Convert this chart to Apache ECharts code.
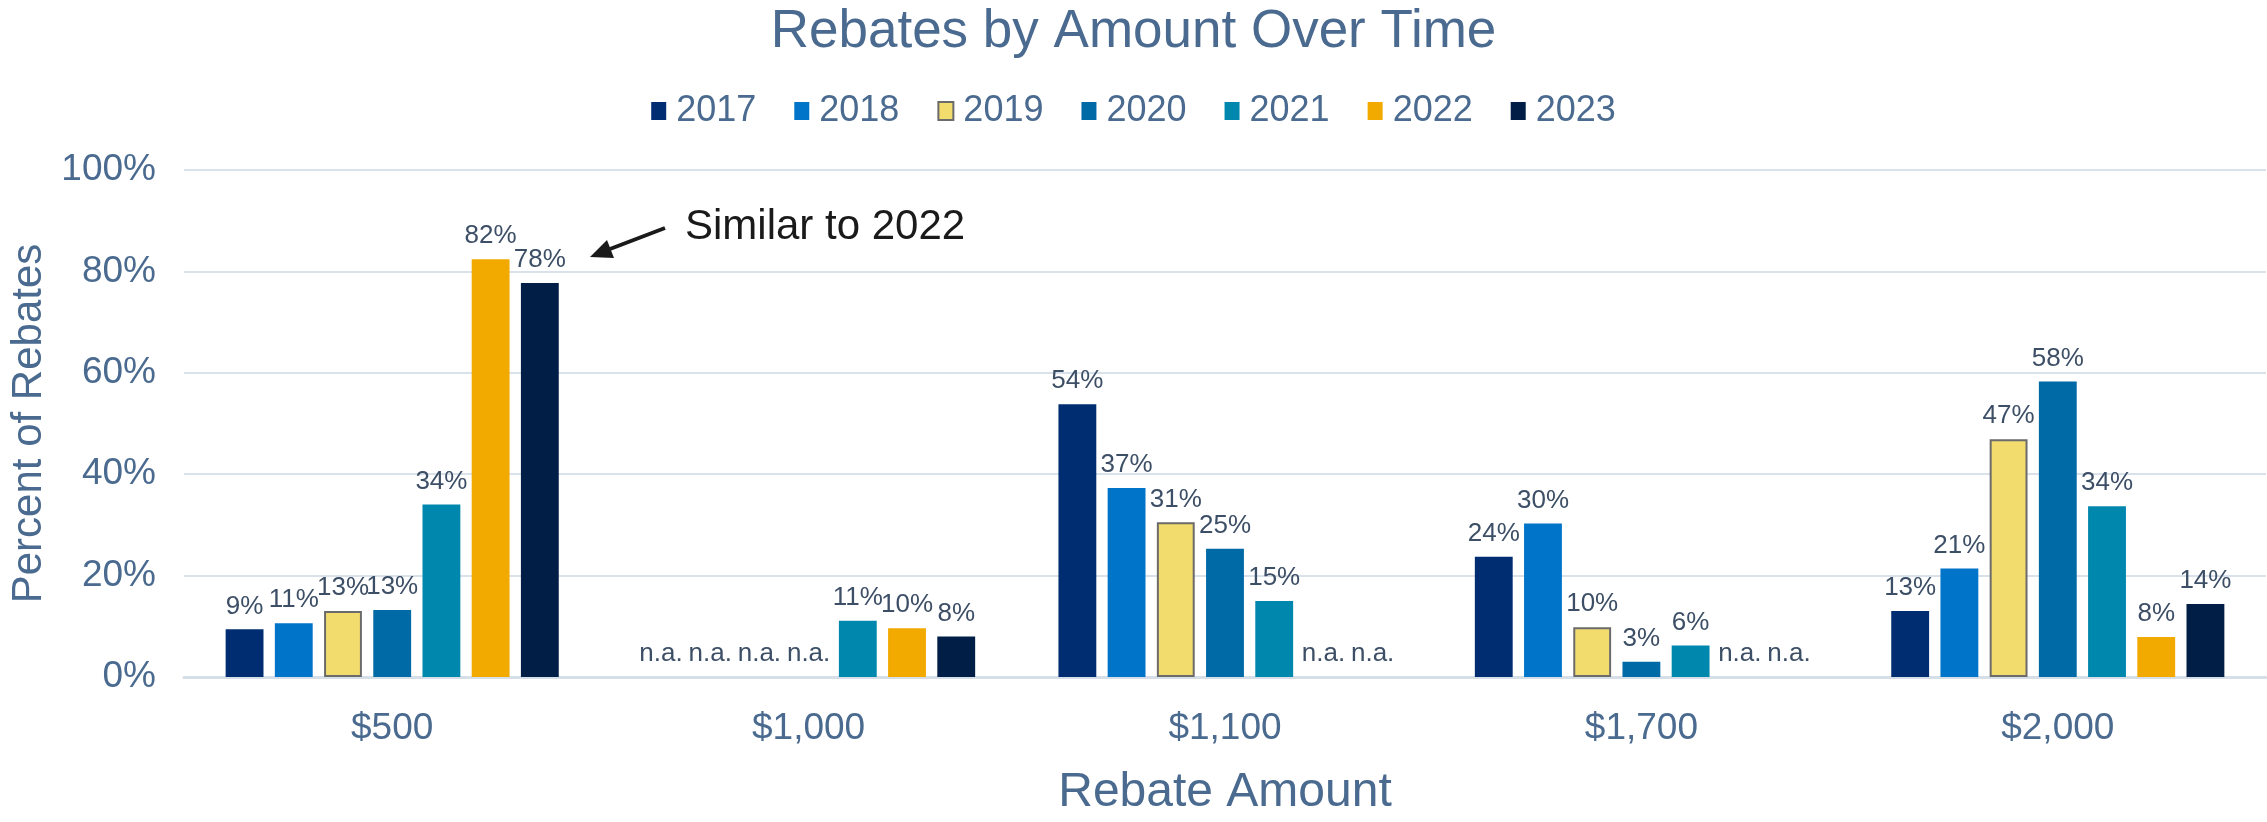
<!DOCTYPE html>
<html>
<head>
<meta charset="utf-8">
<script src="https://cdn.jsdelivr.net/npm/echarts@6/dist/echarts.min.js"></script>
<style>
html, body { margin: 0; padding: 0; background: #fff; }
#container { width: 2267px; height: 822px; }
</style>
</head>
<body>
<div id="container"></div>
<script>
var dom = document.getElementById("container");
var myChart = echarts.init(dom);

// rebate amounts on the x axis
var amounts = ['$500', '$1,000', '$1,100', '$1,700', '$2,000'];
var years = ['2017', '2018', '2019', '2020', '2021', '2022', '2023'];

// percent of rebates per year, null = n.a.
var y2017 = [9.4, null, 53.8, 23.7, 13.0];
var y2018 = [10.6, null, 37.3, 30.3, 21.4];
var y2019 = [13.0, null, 30.5, 9.8, 46.9];
var y2020 = [13.2, null, 25.3, 3.0, 58.3];
var y2021 = [34.0, 11.1, 15.0, 6.2, 33.7];
var y2022 = [82.4, 9.6, null, null, 7.9];
var y2023 = [77.7, 8.0, null, null, 14.4];

var yTicks = [0, 20, 40, 60, 80, 100];

var colorList = ['#002D72', '#0074C8', '#F2DC6E', '#006AA6', '#0087AD', '#F2A900', '#001E46'];
var allData = [y2017, y2018, y2019, y2020, y2021, y2022, y2023];

var fontName = '"Liberation Sans", Arial, sans-serif';
var axisColor = '#4A6A8F';
var labelColor = '#3D4F66';

var series = years.map(function (yr, i) {
	var raw = allData[i];
	var s = {
		name: yr,
		type: 'bar',
		barGap: '30%',
		barCategoryGap: '20%',
		// n.a. entries sit at 0 with no border so only the label shows
		data: raw.map(function (v) {
			if (v === null) return { value: 0, itemStyle: { borderWidth: 0 } };
			return v;
		}),
		itemStyle: { color: colorList[i] },
		label: {
			show: true,
			position: 'top',
			distance: 10,
			fontFamily: fontName,
			fontSize: 26,
			color: labelColor,
			formatter: function (p) {
				if (raw[p.dataIndex] === null) return 'n.a.';
				return Math.round(p.value) + '%';
			}
		}
	};
	if (yr === '2019') {
		s.itemStyle.borderColor = '#6B6B6B';
		s.itemStyle.borderWidth = 2;
	}
	return s;
});

option = {
	animation: false,
	color: colorList,
	textStyle: { fontFamily: fontName },
	title: {
		text: 'Rebates by Amount Over Time',
		left: 'center',
		top: 1,
		textStyle: { fontFamily: fontName, fontSize: 53, fontWeight: 'normal', color: axisColor }
	},
	legend: {
		data: years,
		top: 88,
		left: 'center',
		icon: 'rect',
		itemWidth: 15,
		itemHeight: 18,
		itemGap: 38,
		textStyle: { fontFamily: fontName, fontSize: 36, color: axisColor, padding: [0, 0, 0, 5] }
	},
	grid: { left: 180, right: 1, top: 170, bottom: 135, containLabel: false },
	xAxis: {
		type: 'category',
		data: amounts,
		axisTick: { show: false },
		axisLine: { lineStyle: { color: '#D6DEE8', width: 3 } },
		axisLabel: { fontFamily: fontName, fontSize: 37, color: axisColor, margin: 33 },
		name: 'Rebate Amount',
		nameLocation: 'middle',
		nameGap: 92,
		nameTextStyle: { fontFamily: fontName, fontSize: 48, color: axisColor }
	},
	yAxis: {
		type: 'value',
		min: yTicks[0],
		max: yTicks[yTicks.length - 1],
		interval: 20,
		axisLine: { show: false },
		axisTick: { show: false },
		splitLine: { lineStyle: { color: '#D9E1EA', width: 2 } },
		axisLabel: { fontFamily: fontName, fontSize: 37, color: axisColor, margin: 28, formatter: '{value}%' },
		name: 'Percent of Rebates',
		nameLocation: 'middle',
		nameGap: 134,
		nameTextStyle: { fontFamily: fontName, fontSize: 42, color: axisColor }
	},
	graphic: [
		{
			type: 'line',
			shape: { x1: 665, y1: 228, x2: 610, y2: 249 },
			style: { stroke: '#1A1A1A', lineWidth: 4 }
		},
		{
			type: 'polygon',
			shape: { points: [[590, 257], [614, 258], [607, 240]] },
			style: { fill: '#1A1A1A' }
		},
		{
			type: 'text',
			left: 685,
			top: 206,
			style: { text: 'Similar to 2022', font: '42px "Liberation Sans", Arial, sans-serif', fill: '#1A1A1A' }
		}
	],
	series: series
};

if (option && typeof option === "object") {
	myChart.setOption(option, true);
}
</script>
</body>
</html>
